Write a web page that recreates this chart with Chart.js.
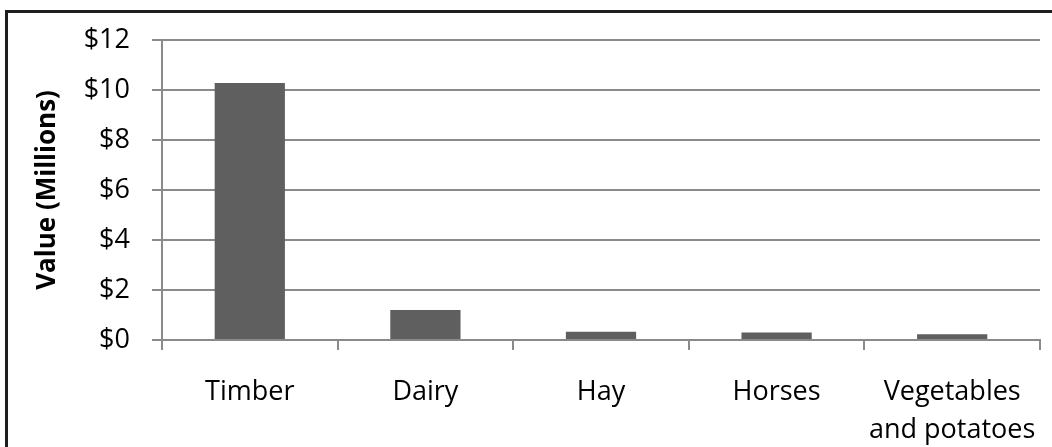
<!DOCTYPE html>
<html>
<head>
<meta charset="utf-8">
<title>Value by product</title>
<script src="https://cdn.jsdelivr.net/npm/chart.js@4.4.1/dist/chart.umd.min.js"></script>
<style>
    html, body { margin: 0; padding: 0; background: #fff; overflow: hidden; }
    #wrap { position: relative; width: 1052px; height: 447px; }
    #frame {
        position: absolute; left: 5px; top: 10px; width: 1200px; height: 600px;
        border-left: 3px solid #1e1e1e; border-top: 3px solid #1e1e1e;
        pointer-events: none;
    }
</style>
</head>
<body>
<div id="wrap">
    <canvas id="valueChart" width="1052" height="447"></canvas>
    <div id="frame"></div>
</div>
<script>
// --- Chart data ---
const categories = ['Timber', 'Dairy', 'Hay', 'Horses', ['Vegetables', 'and potatoes']];
const values = [10.28, 1.2, 0.33, 0.3, 0.23]; // millions of dollars
const yTicks = [0, 2, 4, 6, 8, 10, 12];

const gridGray = '#8a8a8a';
const barGray = '#5f5f5f';
const fontFamily = '"Open Sans", "Liberation Sans", sans-serif';

const ctx = document.getElementById('valueChart').getContext('2d');
new Chart(ctx, {
    type: 'bar',
    data: {
        labels: categories,
        datasets: [{
            label: 'Value (Millions)',
            data: values,
            backgroundColor: barGray,
            borderWidth: 0,
            barPercentage: 0.8,
            categoryPercentage: 0.5
        }]
    },
    options: {
        responsive: false,
        animation: false,
        devicePixelRatio: 1,
        layout: { padding: { left: 0, top: 40, right: 12, bottom: 0 } },
        plugins: {
            legend: { display: false },
            tooltip: { enabled: false }
        },
        scales: {
            x: {
                grid: {
                    drawOnChartArea: false,
                    drawTicks: true,
                    tickLength: 10,
                    color: gridGray,
                    lineWidth: 2
                },
                border: { color: gridGray, width: 2 },
                ticks: {
                    color: '#000',
                    padding: 24,
                    maxRotation: 0,
                    autoSkip: false,
                    font: { family: fontFamily, size: 27, lineHeight: 1.38 }
                },
                afterFit: function(scale) {
                    // keep the plot edges fixed regardless of label overhang
                    scale.height = 107;
                    scale.paddingLeft = 0;
                    scale.paddingRight = 0;
                }
            },
            y: {
                min: 0,
                max: 12,
                afterBuildTicks: function(scale) {
                    scale.ticks = yTicks.map(v => ({ value: v }));
                },
                grid: {
                    color: gridGray,
                    lineWidth: 2,
                    drawTicks: true,
                    tickLength: 10
                },
                border: { color: gridGray, width: 2 },
                ticks: {
                    color: '#000',
                    padding: 22,
                    font: { family: fontFamily, size: 27 },
                    callback: function(v) { return '$' + v; }
                },
                title: {
                    display: true,
                    text: 'Value (Millions)',
                    color: '#000',
                    padding: { top: 32, bottom: 0 },
                    font: { family: fontFamily, size: 26, weight: 'bold', lineHeight: 1.2 }
                },
                afterFit: function(scale) { scale.width = 162; }
            }
        }
    }
});
</script>
</body>
</html>
